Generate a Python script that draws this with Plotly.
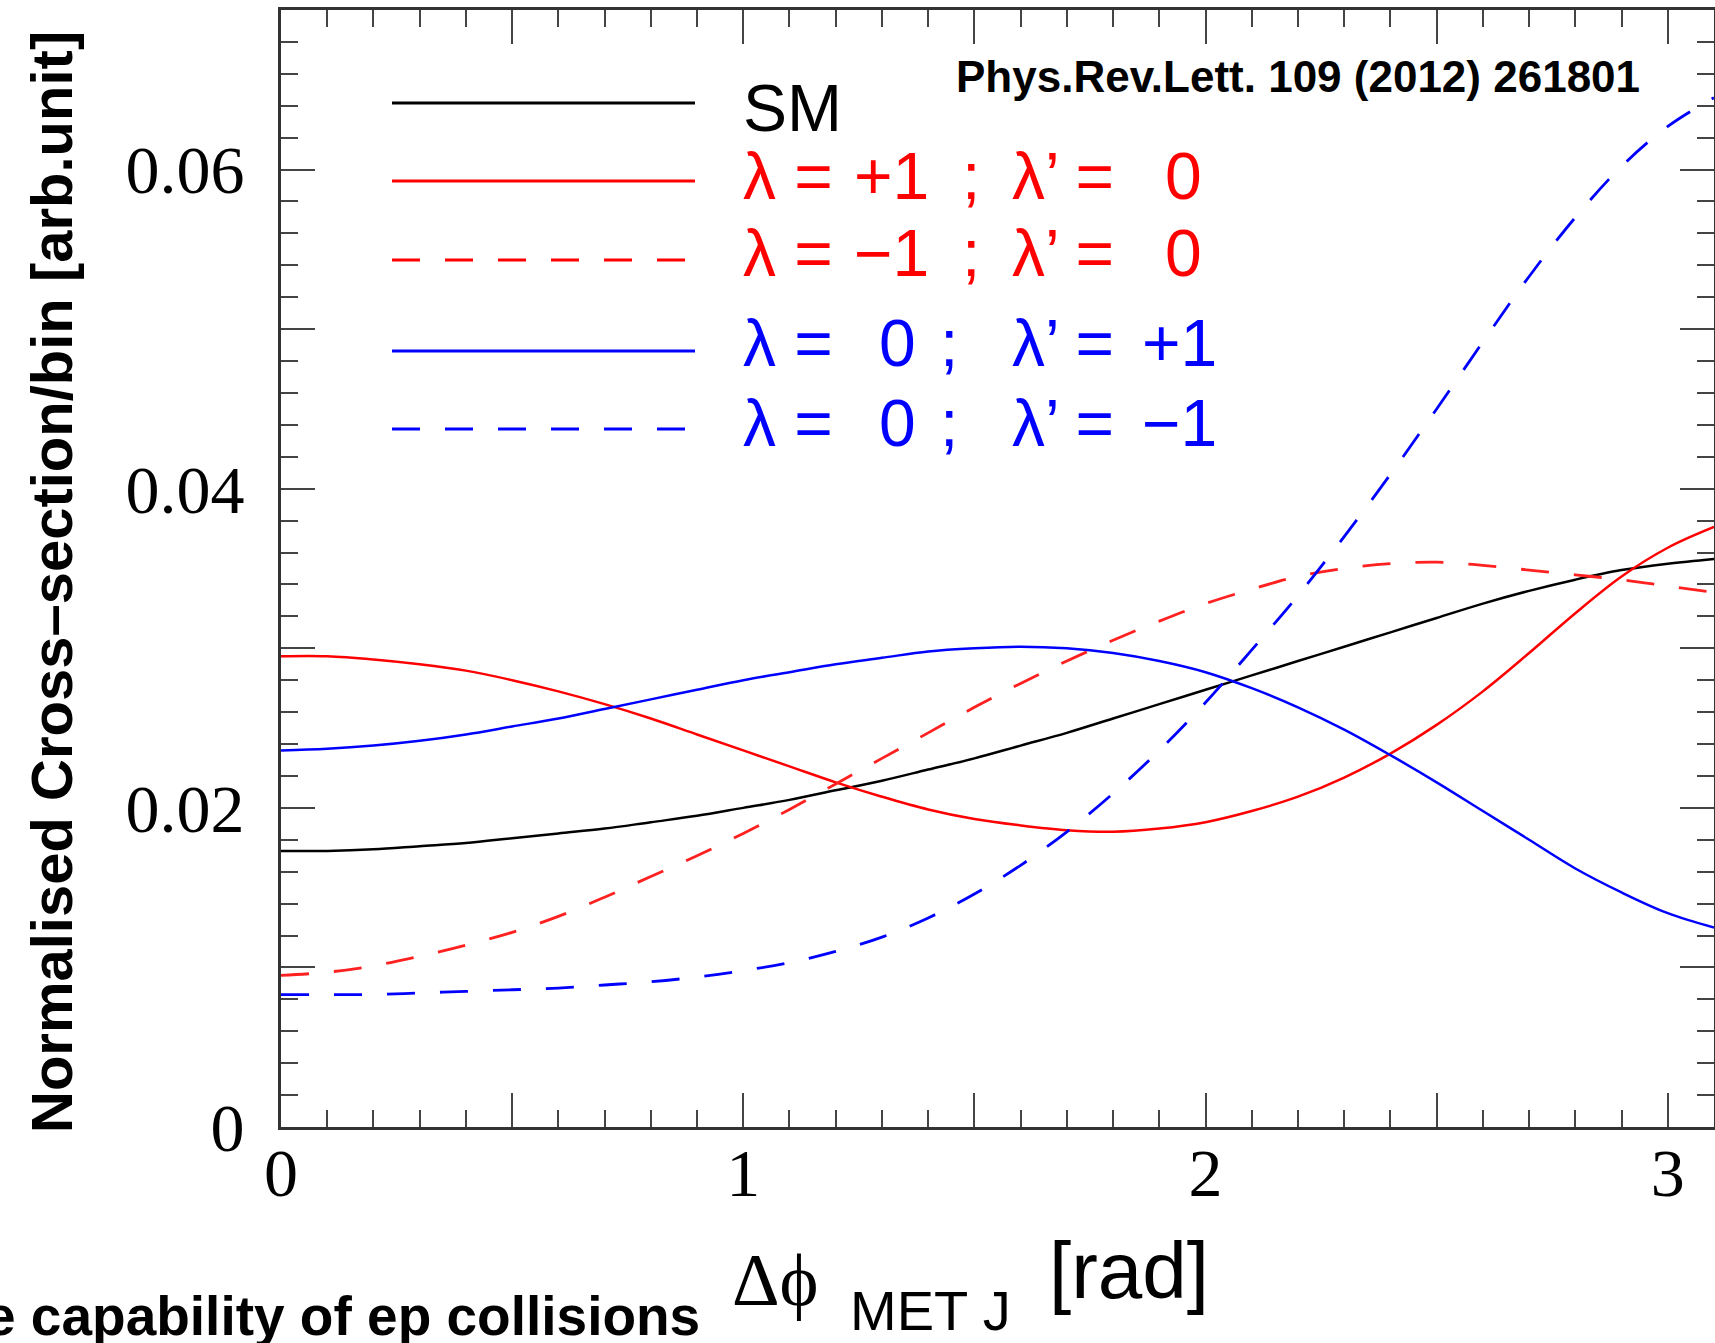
import plotly.graph_objects as go

# ---------------- data ----------------
dphi = [0.0, 0.1, 0.2, 0.3, 0.4, 0.5, 0.6, 0.7, 0.8, 0.9,
        1.0, 1.1, 1.2, 1.3, 1.4, 1.5, 1.6, 1.7, 1.8, 1.9,
        2.0, 2.1, 2.2, 2.3, 2.4, 2.5, 2.6, 2.7, 2.8, 2.9,
        3.0, 3.1]

sm = [0.0173, 0.0173, 0.0174, 0.0176, 0.0178, 0.0181, 0.0184, 0.0187, 0.0191, 0.0195,
      0.0200, 0.0205, 0.0211, 0.0217, 0.0224, 0.0231, 0.0239, 0.0247, 0.0256, 0.0265,
      0.0274, 0.0283, 0.0292, 0.0301, 0.0310, 0.0319, 0.0328, 0.0336, 0.0343, 0.0349,
      0.0353, 0.0356]

lam_p1 = [0.0295, 0.0295, 0.0293, 0.0290, 0.0286, 0.0280, 0.0273, 0.0265, 0.0256, 0.0246,
          0.0236, 0.0226, 0.0216, 0.0207, 0.0199, 0.0193, 0.0189, 0.0186, 0.0185, 0.0187,
          0.0191, 0.0198, 0.0207, 0.0219, 0.0234, 0.0252, 0.0273, 0.0297, 0.0322, 0.0345,
          0.0363, 0.0376]

lam_m1 = [0.0095, 0.0097, 0.0101, 0.0107, 0.0114, 0.0122, 0.0132, 0.0144, 0.0157, 0.0170,
          0.0184, 0.0199, 0.0215, 0.0231, 0.0247, 0.0263, 0.0278, 0.0292, 0.0305, 0.0317,
          0.0328, 0.0337, 0.0345, 0.0350, 0.0353, 0.0354, 0.0352, 0.0349, 0.0346, 0.0343,
          0.0339, 0.0335]

lamp_p1 = [0.0236, 0.0237, 0.0239, 0.0242, 0.0246, 0.0251, 0.0256, 0.0262, 0.0268, 0.0274,
           0.0280, 0.0285, 0.0290, 0.0294, 0.0298, 0.0300, 0.0301, 0.0300, 0.0297, 0.0292,
           0.0285, 0.0275, 0.0263, 0.0249, 0.0233, 0.0216, 0.0198, 0.0180, 0.0162, 0.0147,
           0.0134, 0.0125]

lamp_m1 = [0.0083, 0.0083, 0.0083, 0.0084, 0.0085, 0.0086, 0.0087, 0.0089, 0.0091, 0.0094,
           0.0098, 0.0103, 0.0110, 0.0119, 0.0131, 0.0146, 0.0164, 0.0185, 0.0209, 0.0236,
           0.0266, 0.0299, 0.0333, 0.0370, 0.0409, 0.0450, 0.0492, 0.0533, 0.0570, 0.0602,
           0.0627, 0.0645]

x_tickvals = [0, 0.5, 1, 1.5, 2, 2.5, 3]
x_ticktext = ["0", "", "1", "", "2", "", "3"]
y_tickvals = [0, 0.01, 0.02, 0.03, 0.04, 0.05, 0.06]
y_ticktext = ["0", "", "0.02", "", "0.04", "", "0.06"]

legend_rows = [
    # (left part, first value, separator, right part, second value, colour, dash)
    ("SM", None, None, None, None, "black", "solid"),
    ("λ =", "+1", ";", "λ’ =", "0", "#ff0000", "solid"),
    ("λ =", "−1", ";", "λ’ =", "0", "#ff0000", "dash"),
    ("λ =", "0", ";", "λ’ =", "+1", "#0000ff", "solid"),
    ("λ =", "0", ";", "λ’ =", "−1", "#0000ff", "dash"),
]

# ---------------- geometry helpers ----------------
W, H = 1715, 1343
L, R, T, B = 281, 1, 10, 216
PW, PH = W - L - R, H - T - B


def px(xp):
    return (xp - L) / PW


def py(yp):
    return (H - B - yp) / PH


DASH = "28px,25px"

fig = go.Figure()
series = [
    (sm, "black", "solid", 2.5),
    (lam_p1, "#ff0000", "solid", 2.5),
    (lam_m1, "#ff2020", DASH, 2.8),
    (lamp_p1, "#0000ff", "solid", 2.5),
    (lamp_m1, "#0000ff", DASH, 2.8),
]
for ys, col, dash, lw in series:
    fig.add_trace(go.Scatter(x=dphi, y=ys, mode="lines",
                             line=dict(color=col, width=lw, dash=dash, shape="spline", smoothing=1.0),
                             showlegend=False, hoverinfo="skip"))

tick_font = dict(family="Liberation Serif, Times New Roman, serif", size=68, color="black")
axis_common = dict(showline=True, linecolor="#333333", linewidth=3, mirror="allticks",
                   ticks="inside", tickcolor="#444444", tickwidth=2, ticklen=34,
                   showgrid=False, zeroline=False, tickfont=tick_font)

fig.update_xaxes(range=[0, 3.1], tickmode="array", tickvals=x_tickvals, ticktext=x_ticktext,
                 minor=dict(dtick=0.1, tick0=0, ticks="inside", ticklen=17, tickwidth=2,
                            tickcolor="#444444", showgrid=False),
                 ticklabelstandoff=-16, **axis_common)
fig.update_yaxes(range=[0, 0.07], tickmode="array", tickvals=y_tickvals, ticktext=y_ticktext,
                 minor=dict(dtick=0.002, tick0=0, ticks="inside", ticklen=17, tickwidth=2,
                            tickcolor="#444444", showgrid=False),
                 ticklabelstandoff=20, **axis_common)

ann = []
shapes = []
sans = "Liberation Sans, Arial, sans-serif"

# legend (lines + texts)
line_y = [103, 181, 260, 351, 429]
text_y = [108, 176, 253, 343, 423]
for i, (lp, v1, sep, rp, v2, col, dash) in enumerate(legend_rows):
    shapes.append(dict(type="line", xref="paper", yref="paper",
                       x0=px(392), x1=px(695), y0=py(line_y[i]), y1=py(line_y[i]),
                       line=dict(color=col, width=3, dash=("solid" if dash == "solid" else DASH))))
    f = dict(family=sans, size=66, color=col)
    ann.append(dict(x=px(741), y=py(text_y[i]), text=lp, xanchor="left", yanchor="middle", font=f))
    if v1 is None:
        continue
    red = col == "#ff0000"
    ann.append(dict(x=px(852 if red else 877), y=py(text_y[i]), text=v1, xanchor="left",
                    yanchor="middle", font=f))
    ann.append(dict(x=px(971 if red else 949), y=py(text_y[i]), text=sep, xanchor="center",
                    yanchor="middle", font=f))
    ann.append(dict(x=px(1010), y=py(text_y[i]), text=rp, xanchor="left", yanchor="middle", font=f))
    ann.append(dict(x=px(1163 if red else 1140), y=py(text_y[i]), text=v2, xanchor="left",
                    yanchor="middle", font=f))

# reference label
ann.append(dict(x=px(1298), y=py(76), text="<b>Phys.Rev.Lett. 109 (2012) 261801</b>",
                xanchor="center", yanchor="middle",
                font=dict(family=sans, size=44, color="black")))

# y-axis title
ann.append(dict(x=px(52), y=py(582), text="<b>Normalised Cross–section/bin [arb.unit]</b>",
                textangle=-90, xanchor="center", yanchor="middle",
                font=dict(family=sans, size=58, color="black")))

# x-axis title pieces
ann.append(dict(x=px(730), y=py(1280), text="Δϕ", xanchor="left", yanchor="middle",
                font=dict(family="Liberation Serif, Times New Roman, serif", size=74, color="black")))
ann.append(dict(x=px(848), y=py(1310), text="MET J", xanchor="left", yanchor="middle",
                font=dict(family=sans, size=56, color="black")))
ann.append(dict(x=px(1047), y=py(1270), text="[rad]", xanchor="left", yanchor="middle",
                font=dict(family=sans, size=80, color="black")))

# bottom caption (cut at the left edge, as in the reference)
ann.append(dict(x=px(702), y=py(1316), text="<b>e capability of ep collisions</b>",
                xanchor="right", yanchor="middle",
                font=dict(family=sans, size=55, color="black")))

for a in ann:
    a.update(xref="paper", yref="paper", showarrow=False)

fig.update_layout(width=W, height=H, margin=dict(l=L, r=R, t=T, b=B, autoexpand=False),
                  paper_bgcolor="white", plot_bgcolor="white",
                  annotations=ann, shapes=shapes, showlegend=False)

fig.write_html("out.html")
